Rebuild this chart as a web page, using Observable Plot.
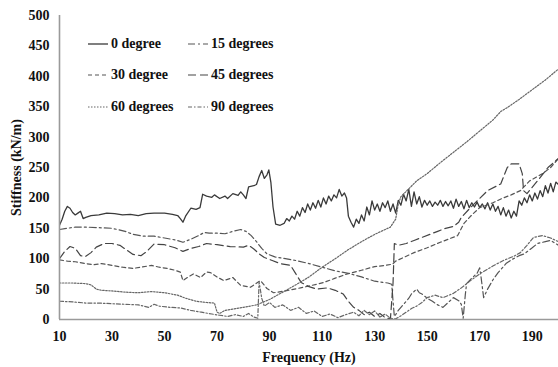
<!DOCTYPE html>
<html>
<head>
<meta charset="utf-8">
<script src="https://cdn.jsdelivr.net/npm/d3@7"></script>
<script src="https://cdn.jsdelivr.net/npm/@observablehq/plot@0.6"></script>
<style>
  html, body { margin: 0; padding: 0; background: #fff; }
  #wrap { position: relative; width: 558px; height: 367px; font-family: "Liberation Serif", "Times New Roman", serif; }
  #legend { position: absolute; left: 0; top: 0; font-weight: bold; font-size: 14px; color: #111; }
  .item { position: absolute; display: flex; align-items: center; white-space: nowrap; }
  .item svg { margin-right: 3px; }
</style>
</head>
<body>
<div id="wrap"><div id="legend"></div></div>
<script>
// Frequency (Hz), stiffness (kN/m) pairs
const deg0 = [[10,155],[11,165],[12,178],[13,186],[14,183],[15,176],[16,172],[17,175],[18,178],[19,166],[20,168],[22,171],[25,172],[28,175],[31,174],[34,172],[37,173],[40,171],[43,174],[46,175],[50,175],[53,173],[55,171],[56,166],[57,160],[58,170],[60,183],[62,181],[63.5,184],[64.5,206],[66,203],[68,201],[69,205],[71,199],[73,203],[74,199],[76,207],[78,204],[79,210],[80,205],[81,199],[82,218],[84,220],[85,222],[86,235],[87,245],[88,232],[89,238],[89.7,246],[90.5,225],[91.3,185],[92.3,157],[94,155],[95.5,158],[96.5,166],[97.5,162],[98.5,170],[99.5,165],[100.5,178],[101.5,170],[102.5,184],[103.5,176],[104.5,190],[105.5,180],[106.5,192],[107.5,183],[108.5,196],[109.5,185],[110.5,200],[111.5,190],[112.5,203],[113.5,195],[114.5,205],[115.5,200],[116.5,214],[117.5,203],[118.5,208],[119.3,200],[120,170],[121,160],[122,152],[123,165],[124,158],[125,172],[126,162],[127,185],[128,172],[129,195],[130,180],[131,190],[132,178],[133,192],[134,184],[135,195],[136,178],[137,190],[138,175],[139,196],[140,188],[141,206],[142,195],[143,214],[144,186],[145,210],[146,190],[147,202],[148,185],[149,196],[150,188],[151,195],[152,186],[153,193],[154,188],[155,196],[156,186],[157,194],[158,187],[159,195],[160,183],[161,198],[162,186],[163,194],[164,182],[165,196],[166,184],[167,192],[168,185],[169,193],[170,184],[171,190],[172,182],[173,192],[174,180],[175,190],[176,178],[177,186],[178,172],[179,184],[180,170],[181,180],[182,167],[183,178],[184,170],[185,195],[186,188],[187,200],[188,192],[189,205],[190,195],[191,208],[192,198],[193,212],[194,202],[195,220],[196,208],[197,224],[198,210],[199,226],[200,222]];

const deg15 = [[10,148],[13,150],[16,152],[20,152],[25,151],[30,150],[35,145],[38,140],[42,137],[46,137],[50,134],[54,131],[57,127],[60,132],[63,138],[65,143],[67,142],[70,142],[73,141],[76,145],[79,148],[81,145],[83,138],[85,128],[87,117],[89,108],[92,103],[96,100],[100,97],[105,92],[110,86],[115,80],[120,76],[125,70],[130,63],[135,60],[136.5,58],[137,30],[137.5,5],[138,8],[139,15],[140,20],[141,25],[142,30],[143,35],[144,42],[145,46],[146,50],[147,44],[148,42],[150,35],[152,30],[154,24],[156,20],[158,28],[160,36],[162,31],[163,25],[163.7,2],[164.5,40],[165,59],[167,68],[169,76],[170,85],[170.5,70],[171.5,36],[173,50],[175,65],[177,77],[180,92],[182,98],[185,105],[187,108],[190,118],[192,125],[195,128],[197,130],[200,122]];

const deg30 = [[10,98],[13,96],[16,95],[20,92],[23,90],[26,92],[30,89],[34,86],[38,84],[41,86],[45,89],[48,86],[51,84],[54,81],[56,78],[57,64],[59,70],[61,75],[63.7,69],[66,78],[67.5,77],[70,70],[72.5,64],[76,69],[79,56],[82.7,53],[86.5,64],[89,51],[91.5,44],[96,47],[101.8,52],[106,56],[110.7,61],[115,68],[119.6,75],[125,81],[130,87],[134,89],[136.8,91],[138,96],[141,102],[145,110],[150,118],[155,127],[158,132],[161.6,138],[164,158],[167,172],[170,184],[175,192],[179,200],[182,205],[185.5,212],[189,228],[194,240],[197,250],[200,265]];

const deg45 = [[10,100],[12,112],[14,120],[16,117],[18,105],[20,104],[22,110],[24,119],[27,125],[30,125],[33,122],[36,113],[38,107],[41,105],[43,111],[46,124],[50,123],[54,118],[57,112],[60,117],[63,120],[66,125],[70,123],[75,120],[80,119],[82,122],[84,116],[86,108],[88,102],[91,97],[94,92],[98,89],[100,75],[102,61],[105,54],[108,50],[112,52],[115,48],[118,42],[120,30],[122,20],[124,15],[126,8],[128,12],[130,5],[132,10],[134,3],[136,1],[137,60],[137.5,125],[139,122],[142,125],[145,130],[148,135],[151,140],[154,145],[157,150],[160,153],[162,160],[163,168],[166.5,184],[169,195],[173,212],[178,223],[180.5,250],[182,256],[185,256],[186.2,240],[186.7,212],[188,207],[192,228],[196,250],[200,265]];

const deg60 = [[10,60],[15,60],[20,59],[22,57],[24,50],[26,48],[30,47],[35,45],[40,44],[45,46],[50,44],[55,40],[58,35],[62,30],[66,28],[69,27],[70,12],[71,10],[73,15],[76,17],[80,20],[85,24],[90,33],[95,45],[100,57],[105,70],[110,86],[115,100],[120,115],[125,128],[130,140],[134,148],[136,152],[138,165],[139,190],[140,202],[143,215],[146,228],[150,240],[155,258],[160,275],[165,292],[170,310],[175,328],[178,342],[181,350],[185,362],[190,378],[195,394],[200,412]];

const deg90 = [[10,30],[15,29],[20,27],[25,27],[30,26],[35,25],[40,24],[44,20],[46,25],[48,22],[52,20],[56,19],[60,15],[64,12],[68,9],[71,7],[74,5],[77,8],[80,5],[82,10],[84,4],[85.5,2],[86,62],[87,35],[88,22],[90,28],[92,20],[95,24],[98,15],[101,20],[104,10],[107,14],[110,5],[113,9],[116,3],[119,8],[122,12],[124,6],[126,15],[128,8],[130,14],[132,4],[134,9],[136,2],[138,1],[140,6],[142,12],[144,18],[146,22],[148,28],[150,36],[153,40],[156,36],[160,43],[163,52],[166.5,64],[170,75],[175,88],[179,97],[183,104],[185.5,110],[188,122],[190.5,135],[194,138],[197,134],[200,128]];

const seriesNames = ["0 degree", "15 degrees", "30 degree", "45 degrees", "60 degrees", "90 degrees"];
const seriesData = [deg0, deg15, deg30, deg45, deg60, deg90];
const xTicks = [10, 30, 50, 70, 90, 110, 130, 150, 170, 190];
const yTicks = [0, 50, 100, 150, 200, 250, 300, 350, 400, 450, 500];

const styles = {
  "0 degree":   {stroke: "#3a3a3a", dash: null,        width: 1.3},
  "15 degrees": {stroke: "#555",    dash: "7,3,2,3",   width: 1.2},
  "30 degree":  {stroke: "#555",    dash: "4,3",       width: 1.2},
  "45 degrees": {stroke: "#444",    dash: "8,4",       width: 1.2},
  "60 degrees": {stroke: "#666",    dash: "1.5,1.5",   width: 1.2},
  "90 degrees": {stroke: "#666",    dash: "4,2,1.5,2", width: 1.2}
};

const table = seriesNames.flatMap((name, i) => seriesData[i].map(([f, v]) => ({name, f, v})));

const lineMarks = seriesNames.map(name => Plot.line(table.filter(d => d.name === name), {
  x: "f", y: "v",
  stroke: styles[name].stroke,
  strokeWidth: styles[name].width,
  strokeDasharray: styles[name].dash,
  clip: true
}));

const chart = Plot.plot({
  width: 558,
  height: 367,
  marginLeft: 59,
  marginRight: 0,
  marginTop: 15,
  marginBottom: 48,
  style: {fontFamily: "'Liberation Serif', 'Times New Roman', serif", fontSize: "13px", fontWeight: "bold", color: "#111", background: "#fff"},
  x: {domain: [10, 200], ticks: xTicks, tickSize: 0, tickPadding: 12, label: null},
  y: {domain: [0, 500], ticks: yTicks, tickSize: 0, tickPadding: 10, label: null},
  marks: [
    ...lineMarks,
    Plot.ruleY([0], {stroke: "#9a9a9a", strokeWidth: 1.6}),
    Plot.ruleX([10], {stroke: "#9a9a9a", strokeWidth: 1.6}),
    Plot.axisX({ticks: xTicks, tickSize: 0, tickPadding: 12, label: "Frequency (Hz)", labelAnchor: "center", labelArrow: "none", labelOffset: 42, fontSize: 13}),
    Plot.axisY({ticks: yTicks, tickSize: 0, tickPadding: 10, label: "Stiffness (kN/m)", labelAnchor: "center", labelArrow: "none", labelOffset: 48, fontSize: 13})
  ]
});
// enlarge axis titles slightly
chart.querySelectorAll("[aria-label$='axis label'] text, [aria-label$='label'] text").forEach(t => t.setAttribute("font-size", "14"));
document.getElementById("wrap").prepend(chart);
chart.style.position = "absolute";
chart.style.left = "0";
chart.style.top = "0";

// legend
const legend = document.getElementById("legend");
const legendPos = [[88, 44], [188, 44], [88, 75], [188, 75], [88, 107], [188, 107]];
seriesNames.forEach((name, i) => {
  const s = styles[name];
  const div = document.createElement("div");
  div.className = "item";
  div.style.left = legendPos[i][0] + "px";
  div.style.top = (legendPos[i][1] - 9) + "px";
  div.innerHTML = `<svg width="20" height="18"><line x1="0" x2="20" y1="9" y2="9" stroke="${s.stroke}" stroke-width="${s.width}" ${s.dash ? `stroke-dasharray="${s.dash}"` : ""}/></svg><span>${name}</span>`;
  legend.appendChild(div);
});
</script>
</body>
</html>
